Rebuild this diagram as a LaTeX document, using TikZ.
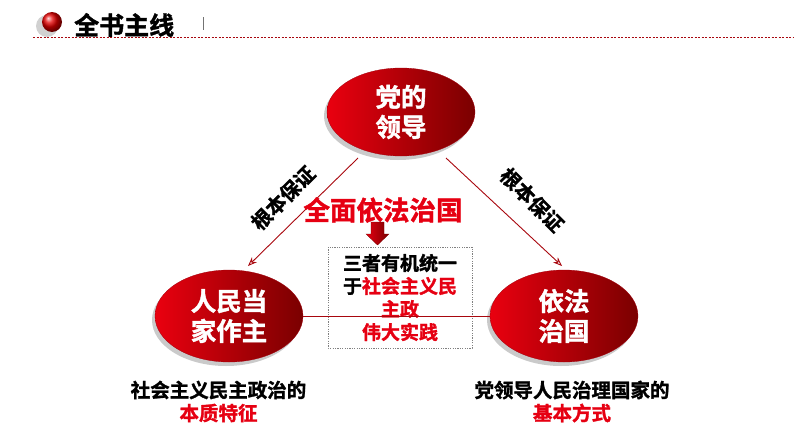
\documentclass[tikz,border=0pt]{standalone}
\usepackage{fontspec}
\setmainfont{Noto Sans CJK SC}
\newfontfamily\cjkb{Noto Sans CJK SC Bold}[FakeBold=1.5]
\usetikzlibrary{shapes.geometric,arrows.meta,shadows,calc}
\definecolor{hred}{HTML}{E60012}
\definecolor{lred}{HTML}{A8070E}
\definecolor{dred}{HTML}{7A0000}
\tikzset{
  oval/.style={ellipse, minimum width=148pt, minimum height=88pt, inner sep=0pt,
    left color=hred!85!red, right color=dred, shading angle=90,
    draw=hred!70!black, line width=0.3pt,
    drop shadow={shadow xshift=-3pt, shadow yshift=-4pt, opacity=0.35, fill=black!60},
    text=white, font=\cjkb\fontsize{25.5}{30}\selectfont, align=center},
  link/.style={draw=lred, line width=0.9pt},
  arr/.style={link, -{Stealth[length=9pt,width=7pt,open]}},
  lab/.style={font=\cjkb\fontsize{20}{22}\selectfont, text=black, inner sep=0pt},
  boxt/.style={font=\cjkb\fontsize{19}{23}\selectfont, align=center, inner sep=0pt},
  bott/.style={font=\cjkb\fontsize{19.5}{22}\selectfont, align=center, inner sep=0pt},
}
\begin{document}
\begin{tikzpicture}[x=1pt,y=-1pt]
\useasboundingbox (0,0) rectangle (794,447);
% header
\fill[black,opacity=0.18] (47,26) circle (11);
\shade[ball color=red!90!black] (52,22) circle (10);
\node[font=\cjkb\fontsize{25}{26}\selectfont, anchor=west, inner sep=0pt] (title) at (74,25) {全书主线};
\draw[black!55, line width=0.8pt] (203,17) -- (203,30);
\coordinate (dl) at (33,37);
\coordinate (dr) at (794,37);
\draw[lred, dash pattern=on 2pt off 1.5pt, line width=0.6pt] (dl) -- (dr);
% ovals
\node[oval] (top) at (401,112) {党的\\领导};
\node[oval, minimum height=92pt] (left) at (229,316) {人民当\\家作主};
\node[oval, minimum height=92pt] (right) at (564,316) {依法\\治国};
% connectors
\coordinate (ls) at (358,158);
\coordinate (rs) at (446,158);
\draw[arr] (ls) -- (248,266);
\draw[arr] (rs) -- (562,266);
% rotated labels
\node[lab, rotate=45] (lab1) at (283,198) {根本保证};
\node[lab, rotate=-45] (lab2) at (532,200) {根本保证};
% center title
\node[font=\cjkb\fontsize{26.5}{28}\selectfont, text=hred, inner sep=0pt] (law) at (383,210) {全面依法治国};
% block arrow
\shade[left color=hred, right color=dred, draw=dred, line width=0.3pt]
  (371,222) -- (384,222) -- (384,234) -- (389,234) -- (377.5,245) -- (366,234) -- (371,234) -- cycle;
% dashed box
\draw[black!50, dash pattern=on 1.2pt off 1.2pt, line width=0.5pt, fill=white] (328,247) rectangle (472,348);
\node[boxt] (b1) at (400,263) {三者有机统一};
\node[boxt] (b2) at (400,286) {于\textcolor{hred}{社会主义民}};
\node[boxt, text=hred] (b3) at (400,309) {主政};
\node[boxt, text=hred] (b4) at (400,332) {伟大实践};
% horizontal line
\draw[link] (left.east) -- (right.west);
% bottom texts
\node[bott] (l1) at (218.5,390) {社会主义民主政治的};
\node[bott, text=hred] (l2) at (218.5,413) {本质特征};
\node[bott] (r1) at (572,390) {党领导人民治理国家的};
\node[bott, text=hred] (r2) at (572,413) {基本方式};
\end{tikzpicture}
\end{document}
